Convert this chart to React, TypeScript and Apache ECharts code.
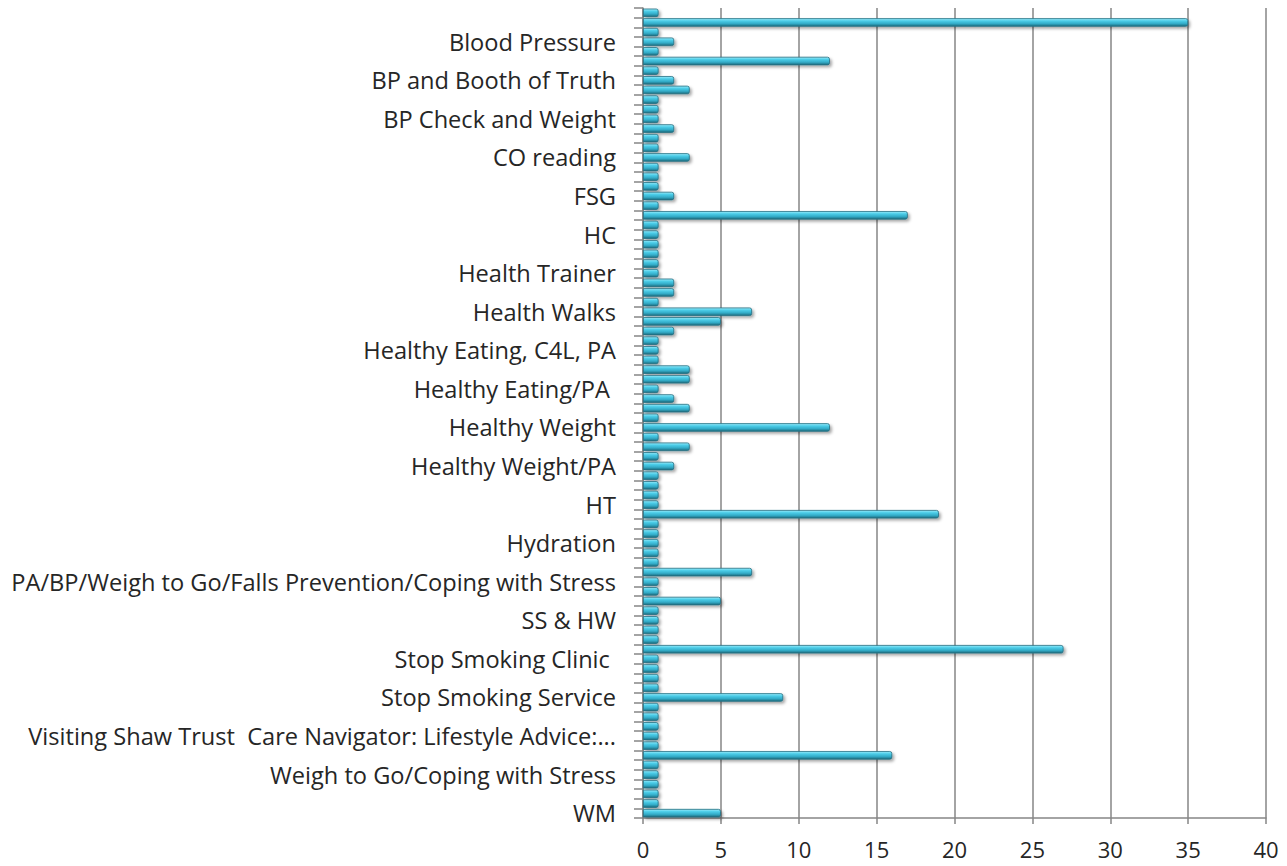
import React, { useEffect, useRef } from "react";
import * as echarts from "echarts";

const categories: string[] = [
  "Alcohol Awareness", "Blood Glucose", "Blood Glucose/BP", "Blood Pressure",
  "Blood Pressure Check", "BP", "BP and BMI", "BP and Booth of Truth",
  "BP Check", "BP Check and BMI", "BP Check and Cholesterol", "BP Check and Weight",
  "Cholesterol", "Cholesterol and BP", "CO Monitoring", "CO reading",
  "Cooking Skills", "Falls Prevention", "Family Health", "FSG",
  "FSG and BP", "Health Check", "Health Check/BP", "HC",
  "HC and BP", "Health Advice", "Health MOT", "Health Trainer",
  "Health Trainer/PA", "Health Trainers", "Health Walk", "Health Walks",
  "Healthy Eating", "Healthy Eating and PA", "Healthy Eating, BP", "Healthy Eating, C4L, PA",
  "Healthy Eating, PA", "Healthy Eating/BP", "Healthy Eating/C4L", "Healthy Eating/PA ",
  "Healthy Eating/Weight", "Healthy Lifestyle", "Healthy Lifestyles", "Healthy Weight",
  "Healthy Weight and BP", "Healthy Weight, PA", "Healthy Weight/BP", "Healthy Weight/PA",
  "Healthy Weight/SS", "Heart Health", "Hearing Check", "HT",
  "HT and PA", "HT/BP", "HT/HW", "Hydration",
  "Lifestyle Advice", "Mental Health", "PA", "PA/BP/Weigh to Go/Falls Prevention/Coping with Stress",
  "PA/HW", "Physical Activity", "SS", "SS & HW",
  "SS and BP", "SS/CO reading", "Stop Smoking", "Stop Smoking Clinic ",
  "Stop Smoking Clinic/BP", "Stop Smoking Drop-in", "Stop Smoking Info", "Stop Smoking Service",
  "Stop Smoking Support", "Stress Management", "Visiting Health Trainer", "Visiting Shaw Trust  Care Navigator: Lifestyle Advice:...",
  "Walking Group", "Weigh to Go", "Weigh to Go/BP", "Weigh to Go/Coping with Stress",
  "Weigh to Go/PA", "Weight Check", "Weight Management", "WM",
];

const values: number[] = [
  1, 35, 1, 2, 1, 12, 1, 2, 3, 1, 1, 1,
  2, 1, 1, 3, 1, 1, 1, 2, 1, 17, 1, 1,
  1, 1, 1, 1, 2, 2, 1, 7, 5, 2, 1, 1,
  1, 3, 3, 1, 2, 3, 1, 12, 1, 3, 1, 2,
  1, 1, 1, 1, 19, 1, 1, 1, 1, 1, 7, 1,
  1, 5, 1, 1, 1, 1, 27, 1, 1, 1, 1, 9,
  1, 1, 1, 1, 1, 16, 1, 1, 1, 1, 1, 5,
];

const xTicks = { min: 0, max: 40, interval: 5 };

export default function App() {
  const ref = useRef<HTMLDivElement>(null);
  useEffect(() => {
    if (!ref.current) return;
    const chart = echarts.init(ref.current, undefined, { renderer: "svg" });
    const font = "'Open Sans', 'Noto Sans', sans-serif";
    chart.setOption({
      animation: false,
      backgroundColor: "#ffffff",
      grid: { left: 643, right: 21, top: 8, bottom: 48, containLabel: false },
      xAxis: {
        type: "value",
        min: xTicks.min,
        max: xTicks.max,
        interval: xTicks.interval,
        axisLine: { show: true, lineStyle: { color: "#868686", width: 1.5 } },
        axisTick: { show: true, length: 6, lineStyle: { color: "#868686", width: 1.5 } },
        splitLine: { show: true, lineStyle: { color: "#868686", width: 1.5 } },
        axisLabel: { color: "#262626", fontSize: 22, fontFamily: font, margin: 20 },
      },
      yAxis: {
        type: "category",
        inverse: true,
        data: categories,
        axisLine: { show: true, lineStyle: { color: "#868686", width: 1.5 } },
        axisTick: { show: true, length: 9, interval: 0, lineStyle: { color: "#868686", width: 1.5 } },
        splitLine: { show: false },
        axisLabel: {
          interval: (i: number) => i % 4 === 3,
          color: "#262626",
          fontSize: 23.6,
          fontFamily: font,
          margin: 27,
        },
      },
      series: [
        {
          type: "bar",
          data: values,
          barWidth: 8.5,
          itemStyle: {
            borderRadius: [0, 2, 2, 0],
            borderColor: "#236f82",
            borderWidth: 0.8,
            color: new echarts.graphic.LinearGradient(0, 0, 0, 1, [
              { offset: 0, color: "#9becfb" },
              { offset: 0.3, color: "#4ccde8" },
              { offset: 0.65, color: "#33acc8" },
              { offset: 1, color: "#1c6a7c" },
            ]),
            shadowColor: "rgba(0,0,0,0.35)",
            shadowBlur: 3,
            shadowOffsetX: 2,
            shadowOffsetY: 2,
          },
        },
      ],
    });
    return () => chart.dispose();
  }, []);
  return (
    <div
      ref={ref}
      style={{ position: "fixed", left: 0, top: 0, width: 1287, height: 866 }}
    />
  );
}
